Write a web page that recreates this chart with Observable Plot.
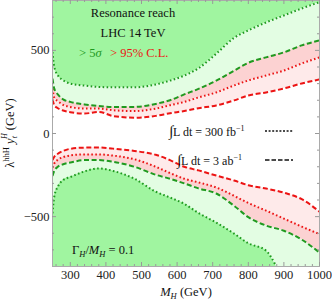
<!DOCTYPE html>
<html><head><meta charset="utf-8">
<script src="https://cdn.jsdelivr.net/npm/d3@7"></script>
<script src="https://cdn.jsdelivr.net/npm/@observablehq/plot@0.6"></script>
<style>body{margin:0;background:#fff} svg{font-family:"Liberation Serif",serif}</style>
</head><body><div id="chart"></div>
<script>
// Heavy resonance mass grid (GeV)
const massGrid = [250, 255, 265, 280, 300, 340, 380, 420, 480, 540, 580, 620, 660, 710, 760, 800, 850, 900, 950, 1000];
// Upper reach boundaries (GeV)
const green300Upper = [490, 400, 350, 320, 300, 288, 280, 278, 278, 295, 318, 348, 392, 480, 575, 620, 668, 710, 752, 790];
const green3Upper   = [330, 270, 235, 205, 190, 175, 165, 160, 160, 178, 200, 235, 268, 318, 378, 425, 458, 488, 530, 560];
const red300Upper   = [270, 215, 195, 172, 160, 150, 150, 140, 135, 150, 170, 190, 217, 247, 289, 319, 349, 379, 421, 458];
const red3Upper     = [205, 170, 152, 138, 128, 120, 130, 105, 95, 106, 122, 135, 152, 169, 199, 229, 247, 271, 301, 325];
// Lower reach boundaries (GeV)
const red3Lower     = [-160, -140, -122, -105, -92, -85, -84, -91, -105, -128, -160, -200, -222, -253, -283, -311, -331, -356, -395, -470];
const red300Lower   = [-205, -180, -158, -142, -132, -126, -126, -133, -155, -200, -238, -272, -294, -325, -375, -418, -464, -512, -560, -605];
const green3Lower   = [-255, -225, -200, -185, -175, -160, -160, -170, -200, -248, -272, -300, -330, -361, -435, -503, -554, -585, -638, -716];
const green300Lower = [-480, -380, -320, -280, -262, -228, -210, -225, -272, -350, -385, -423, -478, -536, -602, -660, -705, -880, -1000, -1100];

const xTicks = [300, 400, 500, 600, 700, 800, 900, 1000];
const yTicks = [-500, 0, 500];
const xMinor = d3.range(260, 1000, 20).filter(d => d % 100 !== 0);
const yMinor = d3.range(-700, 800, 100).filter(d => d % 500 !== 0);

const C = {bright: "#a0f5a0", lightG: "#e3fde3", pink: "#fcd2d2", lightP: "#feeaea", green: "#1f9a1f", red: "#ec1414"};
const rows = arr => massGrid.map((m, i) => ({m, v: arr[i]}));
const curve = "monotone-x";
const W = 332, H = 300, mL = 52, mR = 13, mT = 0, mB = 34;
const pw = W - mL - mR, ph = H - mT - mB;

const upArea = (arr, fill) => Plot.areaY(rows(arr), {x: "m", y1: "v", y2: 3000, fill, curve, clip: true});
const loArea = (arr, fill) => Plot.areaY(rows(arr), {x: "m", y1: -3000, y2: "v", fill, curve, clip: true});
const dotted = "1.6,2.4", dashed = "5,2.6";
const ln = (arr, stroke, dash) => Plot.line(rows(arr), {x: "m", y: "v", stroke, strokeWidth: 2, strokeDasharray: dash, strokeLinecap: "butt", curve, clip: true});

const chart = Plot.plot({
  width: W, height: H, marginLeft: mL, marginRight: mR, marginTop: mT, marginBottom: mB,
  style: {fontFamily: "Liberation Serif, serif", fontSize: "12px", background: "#fff"},
  x: {domain: [250, 1000], label: null},
  y: {domain: [-800, 800], label: null},
  marks: [
    upArea(red3Upper, C.lightP), upArea(red300Upper, C.pink), upArea(green3Upper, C.lightG), upArea(green300Upper, C.bright),
    loArea(red3Lower, C.lightP), loArea(red300Lower, C.pink), loArea(green3Lower, C.lightG), loArea(green300Lower, C.bright),
    ln(red3Upper, C.red, dashed), ln(red300Upper, C.red, dotted), ln(green3Upper, C.green, dashed), ln(green300Upper, C.green, dotted),
    ln(red3Lower, C.red, dashed), ln(red300Lower, C.red, dotted), ln(green3Lower, C.green, dashed), ln(green300Lower, C.green, dotted),
    Plot.frame({stroke: "#aaa", strokeWidth: 1}),
    Plot.tickX(xTicks, {x: d => d, insetTop: ph - 4, stroke: "#999"}),
    Plot.tickX(xTicks, {x: d => d, insetBottom: ph - 4, stroke: "#999"}),
    Plot.tickX(xMinor, {x: d => d, insetTop: ph - 2, stroke: "#999"}),
    Plot.tickX(xMinor, {x: d => d, insetBottom: ph - 2, stroke: "#999"}),
    Plot.tickY(yTicks, {y: d => d, insetRight: pw - 4, stroke: "#999"}),
    Plot.tickY(yTicks, {y: d => d, insetLeft: pw - 4, stroke: "#999"}),
    Plot.tickY(yMinor, {y: d => d, insetRight: pw - 2, stroke: "#999"}),
    Plot.tickY(yMinor, {y: d => d, insetLeft: pw - 2, stroke: "#999"}),
    Plot.axisX(xTicks, {tickSize: 0, tickPadding: 4, label: null, fontSize: 12.5, fill: "#222", tickFormat: d => String(d)}),
    Plot.axisY(yTicks, {tickSize: 0, tickPadding: 3, label: null, fontSize: 12.5, fill: "#222", tickFormat: d => d < 0 ? "\u2212" + Math.abs(d) : String(d)})
  ]
});
document.getElementById("chart").appendChild(chart);

const svg = d3.select(chart);
function rich(x, y, parts, {anchor = "start", size = 12, fill = "#111", rotate = 0} = {}) {
  const t = svg.append("text").attr("x", x).attr("y", y).attr("text-anchor", anchor)
    .attr("font-size", size).attr("fill", fill).attr("font-family", "Liberation Serif, serif");
  if (rotate) t.attr("transform", `rotate(${rotate},${x},${y})`);
  for (const p of parts) {
    const s = t.append("tspan").text(p.t);
    if (p.i) s.attr("font-style", "italic");
    if (p.fill) s.attr("fill", p.fill);
    if (p.fs) s.attr("font-size", p.fs);
    if (p.dy) s.attr("dy", p.dy);
    if (p.dx) s.attr("dx", p.dx);
  }
  return t;
}
rich(133, 17, [{t: "Resonance reach"}], {anchor: "middle", size: 12.5});
rich(133, 37, [{t: "LHC 14 TeV"}], {anchor: "middle", size: 12.5});
rich(79, 57, [{t: "> 5"}, {t: "σ", i: true}], {size: 12.5, fill: C.green});
rich(110, 57, [{t: "> 95% C.L."}], {size: 12.5, fill: C.red});
rich(169, 136, [{t: "∫", fs: 15}, {t: "L dt = 300 fb"}, {t: "−1", fs: 8, dy: -5}], {size: 12});
rich(177, 165, [{t: "∫", fs: 15}, {t: "L dt = 3 ab"}, {t: "−1", fs: 8, dy: -5}], {size: 12});
rich(72, 254, [{t: "Γ"}, {t: "H", i: true, fs: 8.5, dy: 3}, {t: "/", dy: -3}, {t: "M", i: true}, {t: "H", i: true, fs: 8.5, dy: 3}, {t: " = 0.1", dy: -3}], {size: 12.5});
rich(186, 296, [{t: "M", i: true}, {t: "H", i: true, fs: 8.5, dy: 3}, {t: " (GeV)", dy: -3}], {anchor: "middle", size: 12.5});
rich(14, 133, [{t: "λ"}, {t: "hhH", fs: 8.5, dy: -5}, {t: " "}, {t: "y", i: true, dy: 5}, {t: "t", i: true, fs: 8, dy: 3}, {t: "H", i: true, fs: 8, dy: -10, dx: -3}, {t: " (GeV)", dy: 7}], {anchor: "middle", size: 12.5, rotate: -90});
svg.append("line").attr("x1", 265).attr("x2", 293).attr("y1", 131).attr("y2", 131).attr("stroke", "#111").attr("stroke-width", 1.5).attr("stroke-dasharray", "2,1.6");
svg.append("line").attr("x1", 265).attr("x2", 293).attr("y1", 160).attr("y2", 160).attr("stroke", "#111").attr("stroke-width", 1.5).attr("stroke-dasharray", "4.5,2");
</script></body></html>
